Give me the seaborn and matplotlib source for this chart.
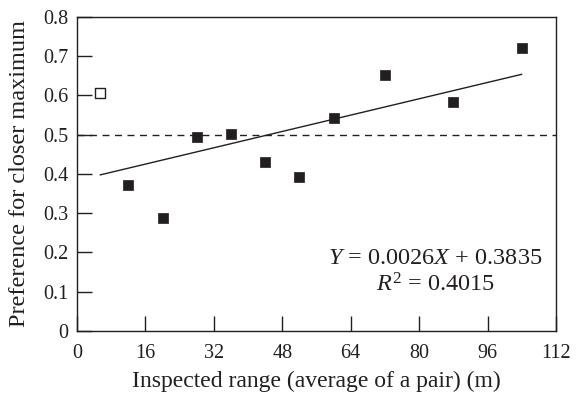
import matplotlib
matplotlib.use("Agg")
import matplotlib.pyplot as plt
import seaborn as sns
import numpy as np
import pandas as pd
from matplotlib.ticker import FuncFormatter

# Data
x_filled = [12, 20, 28, 36, 44, 52, 60, 72, 88, 104]
y_filled = [0.373, 0.288, 0.493, 0.501, 0.431, 0.392, 0.543, 0.652, 0.583, 0.722]
x_open = [5.4]
y_open = [0.605]
slope = 0.0026
intercept = 0.3835
r_squared = 0.4015
reference_level = 0.5
x_ticks = [0, 16, 32, 48, 64, 80, 96, 112]
y_ticks = [0, 0.1, 0.2, 0.3, 0.4, 0.5, 0.6, 0.7, 0.8]

sns.set_theme(style="white")
plt.rcParams['font.family'] = ['Liberation Serif', 'DejaVu Serif']
plt.rcParams['mathtext.fontset'] = 'custom'
plt.rcParams['mathtext.rm'] = 'Liberation Serif'
plt.rcParams['mathtext.it'] = 'Liberation Serif:italic'

INK = "#231f20"

fig = plt.figure(figsize=(5.76, 3.94), dpi=100)
ax = fig.add_axes([0.1337, 0.160, 0.8316, 0.797])

df_f = pd.DataFrame({"x": x_filled, "y": y_filled})
df_o = pd.DataFrame({"x": x_open, "y": y_open})

# reference line at 0.5
ax.axhline(reference_level, color=INK, lw=1.0, ls=(0, (5, 4)), zorder=1)

# regression line across the data range
x_all = x_open + x_filled
xl = np.array([min(x_all), max(x_all)])
df_l = pd.DataFrame({"x": xl, "y": slope * xl + intercept})
sns.lineplot(data=df_l, x="x", y="y", ax=ax, color=INK, lw=1.0, zorder=2)

sns.scatterplot(data=df_f, x="x", y="y", ax=ax, marker="s", s=62,
                color=INK, edgecolor=INK, linewidth=0.5, zorder=3)
sns.scatterplot(data=df_o, x="x", y="y", ax=ax, marker="s", s=52,
                facecolor="white", edgecolor=INK, linewidth=1.0, zorder=3)

ax.set_xlim(0, 112)
ax.set_ylim(0, 0.8)
ax.set_xticks(x_ticks)
ax.set_yticks(y_ticks)
ax.yaxis.set_major_formatter(FuncFormatter(lambda v, p: "0" if abs(v) < 1e-9 else f"{v:.1f}"))

for s in ax.spines.values():
    s.set_color(INK)
    s.set_linewidth(1.0)

ax.tick_params(axis="both", direction="in", length=11, width=1.0, color=INK,
               labelsize=14.5, labelcolor=INK, top=False, right=False,
               bottom=True, left=True)
ax.tick_params(axis="x", pad=9.5)
ax.tick_params(axis="y", pad=6)

ax.set_xlabel("Inspected range (average of a pair) (m)", fontsize=17, color=INK)
ax.set_ylabel("Preference for closer maximum", fontsize=17.5, color=INK)
ax.xaxis.set_label_coords(0.5, -0.127)
ax.yaxis.set_label_coords(-0.099, 0.5)
ax.xaxis.label.set_va("top")

ax.text(0.748, 0.232, f"$Y$ = {slope}$X$ + {intercept}", transform=ax.transAxes,
        ha="center", va="center", fontsize=17.5, color=INK)
ax.text(0.748, 0.148, f"$R^2$ = {r_squared}", transform=ax.transAxes,
        ha="center", va="center", fontsize=17.5, color=INK)

fig.savefig("out.png", dpi=100)
